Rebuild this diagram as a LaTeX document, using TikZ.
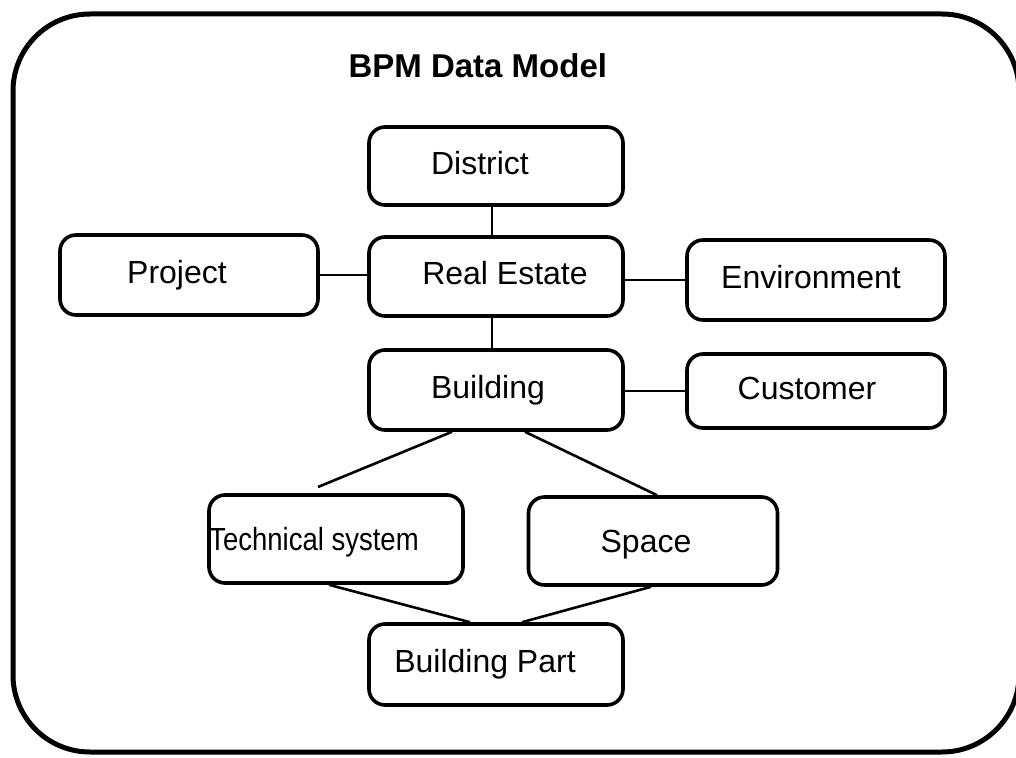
\documentclass[tikz,border=0pt]{standalone}
\usepackage{fontspec}
\setmainfont{Liberation Sans}
% text moved sideways by #1 inside its box
\newcommand{\shifted}[2]{\makebox[0pt]{\hspace*{#1}\hspace*{#1}#2}}
\begin{document}
\begin{tikzpicture}[x=1pt,y=-1pt,
  entity/.style={draw, line width=3.6pt, rounded corners=16pt, inner sep=0pt,
    minimum width=254pt, minimum height=80pt, text height=22pt, text depth=6pt,
    font=\fontsize{32}{37}\selectfont},
  link/.style={line width=2.6pt}]
\useasboundingbox (0,0) rectangle (1016,757);
\fill[white] (0,0) rectangle (1016,757);

% outer frame, its right side runs just past the page edge
\begin{scope}
  \clip (0,0) rectangle (1016,757);
  \draw[line width=5pt, rounded corners=77pt] (13,14) rectangle (1019,752);
\end{scope}

\node[anchor=base west, font=\bfseries\fontsize{33}{38}\selectfont] (title) at (345,78) {BPM Data Model};

% entities
\node[entity, minimum height=78pt] (district) at (496,166) {\shifted{-16pt}{District}};
\node[entity, minimum height=79pt] (realestate) at (496,276.5) {\shifted{9pt}{Real Estate}};
\node[entity, minimum width=258pt] (project) at (189,275) {\shifted{-12pt}{Project}};
\node[entity, minimum width=258pt] (environment) at (816,280) {\shifted{-5pt}{Environment}};
\node[entity] (building) at (496,390) {\shifted{-8pt}{Building}};
\node[entity, minimum width=258pt, minimum height=74pt] (customer) at (816,391) {\shifted{-9pt}{Customer}};
\node[entity, minimum height=88pt, text height=28pt] (techsys) at (336,539) {\shifted{-22pt}{\scalebox{0.86}[1]{Technical system}}};
\node[entity, minimum width=249pt, minimum height=88pt, text height=28pt] (space) at (653,541) {\shifted{-7pt}{Space}};
\node[entity, minimum height=81pt] (bpart) at (496,664.5) {\shifted{-11pt}{Building Part}};

% free end of the link that stops above Technical system
\coordinate (tsend) at (318,487);

% links
\draw[link] ([xshift=-4pt]district.south) -- ([xshift=-4pt]realestate.north);
\draw[link] (project.east) -- (project.east -| realestate.west);
\draw[link] (realestate.east |- environment.west) -- (environment.west);
\draw[link] ([xshift=-4pt]realestate.south) -- ([xshift=-4pt]building.north);
\draw[link] (building.east |- customer.west) -- (customer.west);
\draw[link] ([xshift=-44pt]building.south) -- (tsend);
\draw[link] ([xshift=29pt]building.south) -- ([xshift=4pt]space.north);
\draw[link] ([xshift=-7pt]techsys.south) -- ([xshift=-26pt]bpart.north);
\draw[link] ([xshift=-2pt]space.south) -- ([xshift=26pt]bpart.north);
\end{tikzpicture}
\end{document}
